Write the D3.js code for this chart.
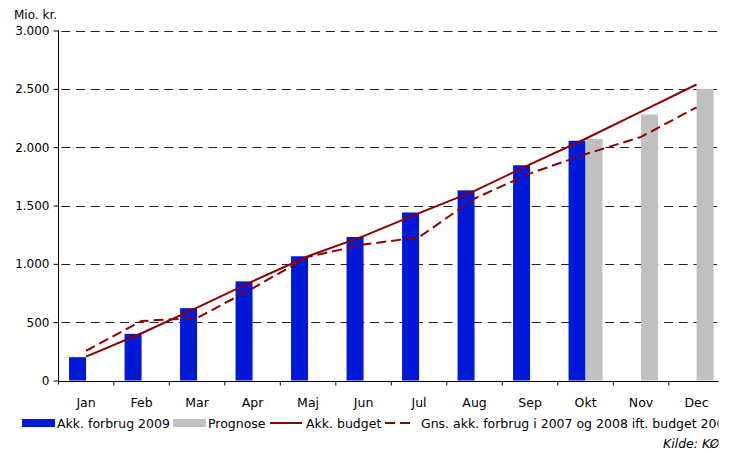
<!DOCTYPE html>
<html>
<head>
<meta charset="utf-8">
<script src="https://cdn.jsdelivr.net/npm/d3@7"></script>
<style>
  body { margin: 0; background: #fff; }
  text { font-family: "DejaVu Sans", Verdana, sans-serif; font-size: 12.5px; fill: #000; }
</style>
</head>
<body>
<script>
// data (mio. kr., accumulated)
var months = ["Jan","Feb","Mar","Apr","Maj","Jun","Jul","Aug","Sep","Okt","Nov","Dec"];
var forbrug2009 = [200, 400, 620, 850, 1065, 1230, 1440, 1630, 1845, 2055, null, null];
var prognose = [null, null, null, null, null, null, null, null, null, 2070, 2280, 2500];
var budget = [205, 405, 625, 850, 1065, 1238, 1435, 1625, 1852, 2072, 2305, 2537];
var gnsForbrug = [255, 510, 535, 790, 1060, 1165, 1228, 1560, 1775, 1940, 2088, 2342];
var yTicks = [0, 500, 1000, 1500, 2000, 2500, 3000];

var width = 731, height = 453;
var red = "#8b0000", blue = "#0019d6", grey = "#c0c0c0";

var svg = d3.select("body").append("svg")
  .attr("width", width)
  .attr("height", height);

// the picture is cut off at the right edge
svg.append("clipPath").attr("id", "cut")
  .append("rect").attr("x", 0).attr("y", 0).attr("width", 718.5).attr("height", height);

var g = svg.append("g").attr("clip-path", "url(#cut)");

var x = d3.scaleBand().domain(months).range([58.3, 724.3]).padding(0);
var y = d3.scaleLinear().domain([0, 3000]).range([380.5, 30.5]);
var sub = d3.scaleBand().domain(["forbrug", "prognose"]).range([-17, 17]);
var mid = function(m) { return x(m) + x.bandwidth() / 2; };

// grid lines
g.append("g").selectAll("line")
  .data(yTicks.filter(function(d) { return d > 0; }))
  .join("line")
  .attr("x1", 58.3).attr("x2", 724)
  .attr("y1", function(d) { return Math.round(y(d)) + 0.5; })
  .attr("y2", function(d) { return Math.round(y(d)) + 0.5; })
  .attr("stroke", "#222")
  .attr("stroke-width", 1)
  .attr("stroke-dasharray", "9,5.7")
  .attr("stroke-dashoffset", -3);

// bars
function bars(values, key, color) {
  g.append("g").selectAll("rect")
    .data(months.map(function(m, i) { return {m: m, v: values[i]}; }).filter(function(d) { return d.v != null; }))
    .join("rect")
    .attr("x", function(d) { return mid(d.m) + sub(key); })
    .attr("width", sub.bandwidth())
    .attr("y", function(d) { return y(d.v); })
    .attr("height", function(d) { return y(0) - y(d.v); })
    .attr("fill", color);
}
bars(forbrug2009, "forbrug", blue);
bars(prognose, "prognose", grey);

// lines
var line = d3.line()
  .x(function(d, i) { return mid(months[i]); })
  .y(function(d) { return y(d); });

g.append("path").datum(gnsForbrug)
  .attr("d", line)
  .attr("fill", "none")
  .attr("stroke", red)
  .attr("stroke-width", 2)
  .attr("stroke-dasharray", "10,5");

g.append("path").datum(budget)
  .attr("d", line)
  .attr("fill", "none")
  .attr("stroke", red)
  .attr("stroke-width", 2);

// axes
var yAxis = d3.axisLeft(y).tickValues(yTicks).tickSize(5).tickPadding(4)
  .tickFormat(function(d) { return d3.format(",")(d).replace(/,/g, "."); });
var ya = g.append("g").attr("transform", "translate(58.5,0)").call(yAxis);
ya.select(".domain").attr("d", "M0," + y(3000) + "V" + (y(0) + 4));
ya.selectAll("text").style("font-size", "12px");

var xAxis = d3.axisBottom(x).tickSize(0).tickPadding(17);
var xa = g.append("g").attr("transform", "translate(0," + (Math.round(y(0)) + 0.5) + ")").call(xAxis);
xa.select(".domain").attr("d", "M58.3,0H724.3");
xa.selectAll("text").style("font-size", "12.5px");
xa.append("g").selectAll("line")
  .data(months.slice(1).concat(["end"]))
  .join("line")
  .attr("x1", function(d) { return d === "end" ? 724.3 : x(d); })
  .attr("x2", function(d) { return d === "end" ? 724.3 : x(d); })
  .attr("y1", 0).attr("y2", 4)
  .attr("stroke", "#000");

g.append("text").attr("x", 14).attr("y", 19).style("font-size", "12px").text("Mio. kr.");

// legend
var legend = g.append("g").attr("transform", "translate(0,423)");
legend.append("rect").attr("x", 22).attr("y", -4).attr("width", 33).attr("height", 8).attr("fill", blue);
legend.append("text").attr("x", 57).attr("y", 4.5).text("Akk. forbrug 2009");
legend.append("rect").attr("x", 173).attr("y", -4).attr("width", 33).attr("height", 8).attr("fill", grey);
legend.append("text").attr("x", 208).attr("y", 4.5).text("Prognose");
legend.append("line").attr("x1", 270).attr("x2", 302).attr("y1", 0).attr("y2", 0)
  .attr("stroke", red).attr("stroke-width", 2);
legend.append("text").attr("x", 306).attr("y", 4.5).text("Akk. budget");
legend.append("line").attr("x1", 385).attr("x2", 415).attr("y1", 0).attr("y2", 0)
  .attr("stroke", red).attr("stroke-width", 2).attr("stroke-dasharray", "10,5");
legend.append("text").attr("x", 421).attr("y", 4.5).text("Gns. akk. forbrug i 2007 og 2008 ift. budget 2009");

g.append("text").attr("x", 663).attr("y", 448)
  .style("font-style", "italic")
  .text("Kilde: KØL");
</script>
</body>
</html>
